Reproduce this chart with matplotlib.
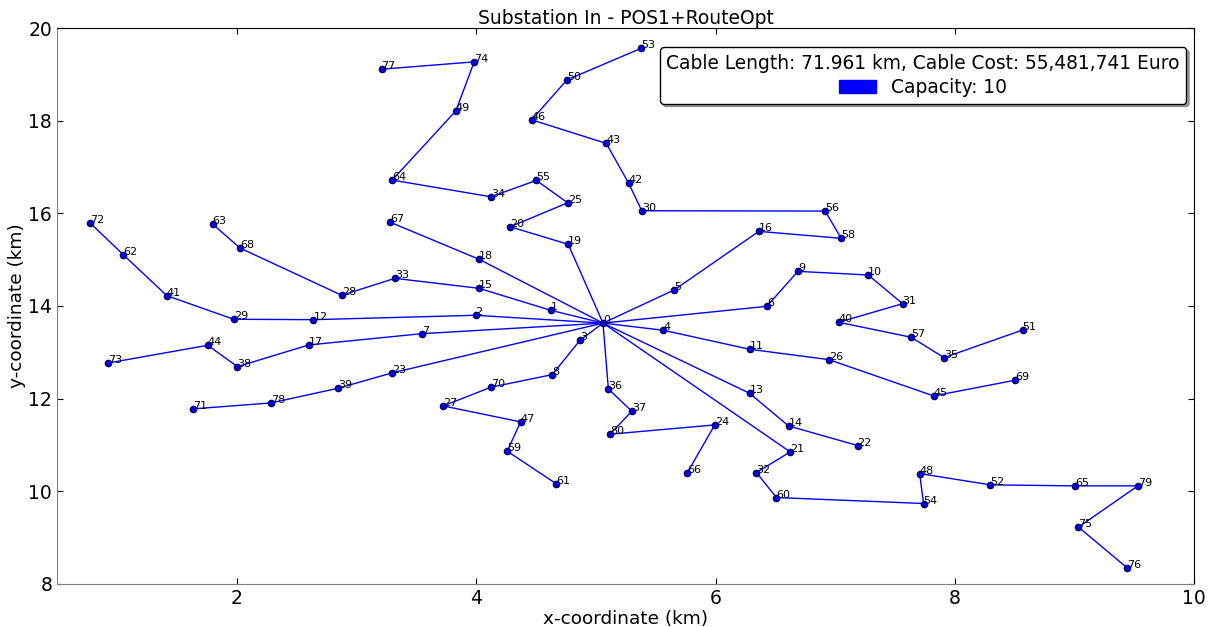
import matplotlib
matplotlib.use("Agg")
from matplotlib import pyplot as plt
from matplotlib.patches import Patch

# Coordonnees des noeuds (km), index = numero de la turbine, 0 = sous-station
node_x = [5.06, 4.623, 3.996, 4.868, 5.565, 5.654, 6.429, 3.549, 4.636, 6.688,
          7.276, 6.284, 2.641, 6.284, 6.610, 4.023, 6.362, 2.602, 4.026, 4.770,
          4.285, 6.624, 7.187, 3.296, 5.994, 4.765, 6.947, 3.725, 2.878, 1.975,
          5.384, 7.563, 6.342, 3.321, 4.124, 7.909, 5.105, 5.300, 2.006, 2.847,
          7.028, 1.417, 5.275, 5.088, 1.758, 7.822, 4.464, 4.372, 7.705, 3.831,
          4.759, 8.566, 8.296, 5.375, 7.738, 4.503, 6.916, 7.635, 7.050, 4.260,
          6.509, 4.670, 1.053, 1.799, 3.299, 9.004, 5.765, 3.285, 2.028, 8.502,
          4.124, 1.635, 0.777, 0.927, 3.984, 9.032, 9.441, 3.210, 2.287, 9.528,
          5.119]
node_y = [13.63, 13.907, 13.799, 13.259, 13.475, 14.345, 13.993, 13.402, 12.517, 14.748,
          14.669, 13.065, 13.704, 12.115, 11.409, 14.382, 15.612, 13.158, 15.007, 15.331,
          15.711, 10.848, 10.985, 12.553, 11.431, 16.229, 12.841, 11.841, 14.231, 13.713,
          16.057, 14.049, 10.402, 14.597, 16.359, 12.884, 12.208, 11.727, 12.690, 12.223,
          13.648, 14.222, 16.648, 17.511, 13.151, 12.057, 18.021, 11.496, 10.380, 18.215,
          18.884, 13.482, 10.136, 19.562, 9.733, 16.713, 16.050, 13.324, 15.461, 10.863,
          9.862, 10.158, 15.107, 15.770, 16.719, 10.114, 10.402, 15.806, 15.251, 12.396,
          12.245, 11.777, 15.791, 12.769, 19.273, 9.223, 8.338, 19.115, 11.906, 10.114,
          11.230]

# Chaines de cables partant de la sous-station
routes = [
    [0, 1, 15, 33, 28, 68, 63],
    [0, 2, 12, 29, 41, 62, 72],
    [0, 7, 17, 38, 44, 73],
    [0, 23, 39, 78, 71],
    [0, 3, 8, 70, 27, 47, 59, 61],
    [0, 18, 67],
    [0, 19, 20, 25, 55, 34, 64, 49, 74, 77],
    [0, 36, 37, 80, 24, 66],
    [0, 5, 16, 58, 56, 30, 42, 43, 46, 50, 53],
    [0, 6, 9, 10, 31, 40, 57, 35, 51],
    [0, 4, 11, 26, 45, 69],
    [0, 13, 14, 22],
    [0, 21, 32, 60, 54, 48, 52, 65, 79, 75, 76],
]

title = "Substation In - POS1+RouteOpt"
legend_title = "Cable Length: 71.961 km, Cable Cost: 55,481,741 Euro"
capacity = 10


def main():
    fig = plt.figure(figsize=(12.15, 6.27), dpi=100)
    ax = fig.add_axes([0.047, 0.069, 0.936, 0.886])

    # Cables
    for route in routes:
        xs = [node_x[i] for i in route]
        ys = [node_y[i] for i in route]
        ax.plot(xs, ys, color="blue", lw=1, zorder=1)

    # Noeuds + etiquettes
    ax.plot(node_x, node_y, "o", color="blue", mec="#000060", ms=4.5, zorder=2)
    for i, (x, y) in enumerate(zip(node_x, node_y)):
        ax.text(x, y, str(i), fontsize=8, zorder=3)

    ax.set_xlim(0.5, 10)
    ax.set_ylim(8, 20)
    ax.set_xticks([2, 4, 6, 8, 10])
    ax.set_yticks([8, 10, 12, 14, 16, 18, 20])
    ax.tick_params(direction="in", top=True, right=True, labelsize=13.5, length=4)
    ax.spines["left"].set_color("gray")
    ax.spines["bottom"].set_color("gray")

    ax.set_title(title, fontsize=13.5, pad=3)
    ax.set_xlabel("x-coordinate (km)", fontsize=13.3, labelpad=2)
    ax.set_ylabel("y-coordinate (km)", fontsize=13.3, labelpad=2)

    leg = ax.legend(handles=[Patch(color="blue", label="Capacity: %d" % capacity)],
                    title=legend_title, loc="upper right",
                    bbox_to_anchor=(0.993, 0.966), borderaxespad=0,
                    fontsize=13.4, title_fontsize=13.4, fancybox=True,
                    shadow=True, framealpha=1, labelspacing=0.3, borderpad=0.35)
    leg.get_frame().set_edgecolor("black")
    leg.set_zorder(5)

    fig.savefig("out.png", dpi=100, facecolor="white")


if __name__ == "__main__":
    main()
